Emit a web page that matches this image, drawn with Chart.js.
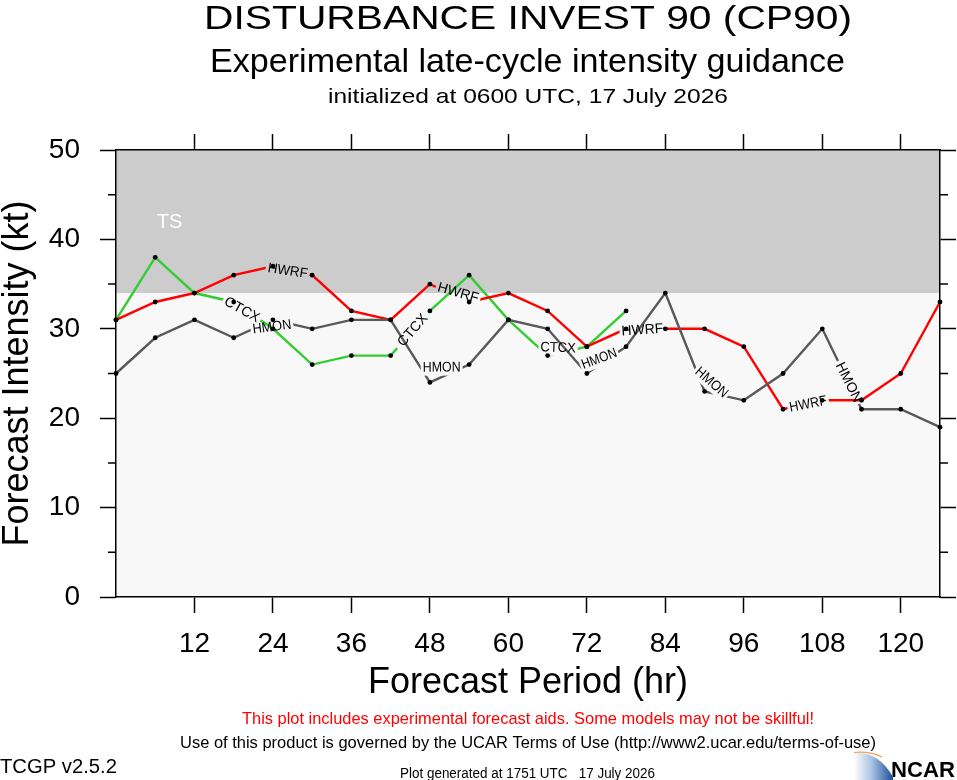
<!DOCTYPE html>
<html lang="en">
<head>
<meta charset="UTF-8">
<title>CP90 late-cycle intensity guidance</title>
<script src="https://cdn.jsdelivr.net/npm/chart.js"></script>
<style>
    html, body { margin: 0; padding: 0; background: #fff; }
    .chart-wrap { position: relative; width: 957px; height: 780px; }
</style>
</head>
<body>
<div class="chart-wrap"><canvas id="intensityChart"></canvas></div>
<script>
    // forecast hours, every 6 h
    const hours = [0, 6, 12, 18, 24, 30, 36, 42, 48, 54, 60, 66, 72, 78, 84, 90, 96, 102, 108, 114, 120, 126];
    // intensity in kt for each model
    const hmon = [25, 29, 31, 29, 31, 30, 31, 31, 24, 26, 31, 30, 25, 28, 34, 23, 22, 25, 30, 21, 21, 19];
    const hwrf = [31, 33, 34, 36, 37, 36, 32, 31, 35, 33, 34, 32, 28, 30, 30, 30, 28, 21, 22, 22, 25, 33];
    const ctcx = [31, 38, 34, 33, 30, 26, 27, 27, 32, 36, 31, 27, 28, 32];

    const xTicks = [12, 24, 36, 48, 60, 72, 84, 96, 108, 120];
    const yTicks = [0, 10, 20, 30, 40, 50];
    const yMinorTicks = [5, 15, 25, 35, 45];
    const tsThreshold = 34; // tropical storm band starts here

    // inline line labels: model and the hour span of the gap in its line
    const labelModel = ['HWRF', 'CTCX', 'HMON', 'CTCX', 'HMON', 'HWRF', 'CTCX', 'HMON', 'HWRF', 'HMON', 'HWRF', 'HMON'];
    const labelFrom  = [22.9, 16.4, 20.6, 43.0, 46.6, 48.9, 64.6, 71.0, 77.0, 88.6, 102.7, 110.4];
    const labelTo    = [29.6, 22.1, 27.1, 47.8, 53.0, 55.7, 70.6, 76.8, 84.0, 93.5, 109.0, 113.6];

    const modelNames = ['HMON', 'HWRF', 'CTCX'];
    const series = { HMON: hmon, HWRF: hwrf, CTCX: ctcx };
    const colors = { HMON: '#595959', HWRF: '#ff0000', CTCX: '#33cc33' };

    const W = 957, H = 780;
    const area = { left: 116, right: 940, top: 150, bottom: 597 };
    const FONT = '"Liberation Sans", Arial, Helvetica, sans-serif';

    Chart.defaults.font.family = FONT;
    Chart.defaults.color = '#000';

    function toXY(vals) {
        return vals.map((v, i) => ({ x: hours[i], y: v }));
    }

    function valueAt(vals, h) {
        for (let i = 0; i < vals.length - 1; i++) {
            if (h >= hours[i] && h <= hours[i + 1]) {
                const f = (h - hours[i]) / (hours[i + 1] - hours[i]);
                return vals[i] + (vals[i + 1] - vals[i]) * f;
            }
        }
        return vals[vals.length - 1];
    }

    // label boxes in pixels, one per label of that model
    function labelBoxes(chart, model) {
        const xs = chart.scales.x, ys = chart.scales.y;
        const out = [];
        labelModel.forEach((m, i) => {
            if (model && m !== model) return;
            const vals = series[m];
            const x1 = xs.getPixelForValue(labelFrom[i]), y1 = ys.getPixelForValue(valueAt(vals, labelFrom[i]));
            const x2 = xs.getPixelForValue(labelTo[i]), y2 = ys.getPixelForValue(valueAt(vals, labelTo[i]));
            out.push({
                text: m,
                cx: (x1 + x2) / 2, cy: (y1 + y2) / 2,
                len: Math.hypot(x2 - x1, y2 - y1),
                ang: Math.atan2(y2 - y1, x2 - x1)
            });
        });
        return out;
    }

    function drawText(ctx, t) {
        ctx.save();
        ctx.font = (t.bold ? 'bold ' : '') + t.size + 'px ' + FONT;
        ctx.fillStyle = t.color || '#000';
        ctx.textBaseline = 'alphabetic';
        ctx.textAlign = t.align || 'center';
        const w = ctx.measureText(t.text).width;
        ctx.translate(t.x, t.y);
        ctx.scale(t.width ? t.width / w : 1, 1);
        ctx.fillText(t.text, 0, 0);
        ctx.restore();
    }

    const pageTexts = [
        { text: 'DISTURBANCE INVEST 90 (CP90)', x: 528, y: 29, size: 34, width: 648 },
        { text: 'Experimental late-cycle intensity guidance', x: 527.5, y: 72, size: 34, width: 635 },
        { text: 'initialized at 0600 UTC, 17 July 2026', x: 528, y: 103, size: 21, width: 400 },
        { text: 'This plot includes experimental forecast aids. Some models may not be skillful!', x: 528, y: 724, size: 17, width: 572, color: '#ff0000' },
        { text: 'Use of this product is governed by the UCAR Terms of Use (http://www2.ucar.edu/terms-of-use)', x: 528, y: 748, size: 17, width: 696 },
        { text: 'TCGP v2.5.2', x: 0, y: 773, size: 20, width: 117, align: 'left' },
        { text: 'Plot generated at 1751 UTC   17 July 2026', x: 400, y: 777.5, size: 14, width: 255, align: 'left' },
        { text: 'NCAR', x: 891, y: 777, size: 22, width: 64, align: 'left', bold: true }
    ];

    // background, TS band and its label
    const backdrop = {
        id: 'backdrop',
        beforeDraw(chart) {
            const { ctx, chartArea: a, scales } = chart;
            ctx.save();
            ctx.fillStyle = '#fff';
            ctx.fillRect(0, 0, chart.width, chart.height);
            ctx.fillStyle = '#f8f8f8';
            ctx.fillRect(a.left, a.top, a.right - a.left, a.bottom - a.top);
            const yTs = scales.y.getPixelForValue(tsThreshold);
            ctx.fillStyle = '#cccccc';
            ctx.fillRect(a.left, a.top, a.right - a.left, yTs - a.top);
            ctx.fillStyle = '#fff';
            ctx.font = '20px ' + FONT;
            ctx.textAlign = 'center';
            ctx.textBaseline = 'middle';
            ctx.fillText('TS', scales.x.getPixelForValue(8.2), scales.y.getPixelForValue(41.9));
            ctx.restore();
        }
    };

    // cut gaps in the lines where the inline labels sit, then write the labels
    const lineLabels = {
        id: 'lineLabels',
        beforeDatasetDraw(chart, args) {
            const ds = chart.data.datasets[args.index];
            if (!ds.lineOf) return;
            const ctx = chart.ctx;
            ctx.save();
            ctx.beginPath();
            ctx.rect(0, 0, chart.width, chart.height);
            labelBoxes(chart, ds.lineOf).forEach(b => {
                const c = Math.cos(b.ang), s = Math.sin(b.ang);
                const hl = b.len / 2, hh = 8;
                const pts = [[-hl, -hh], [hl, -hh], [hl, hh], [-hl, hh]];
                pts.forEach((p, k) => {
                    const px = b.cx + p[0] * c - p[1] * s;
                    const py = b.cy + p[0] * s + p[1] * c;
                    if (k === 0) ctx.moveTo(px, py); else ctx.lineTo(px, py);
                });
                ctx.closePath();
            });
            ctx.clip('evenodd');
        },
        afterDatasetDraw(chart, args) {
            const ds = chart.data.datasets[args.index];
            if (ds.lineOf) chart.ctx.restore();
        },
        afterDatasetsDraw(chart) {
            const ctx = chart.ctx;
            labelBoxes(chart, null).forEach(b => {
                ctx.save();
                ctx.translate(b.cx, b.cy);
                ctx.rotate(b.ang);
                ctx.font = '14px ' + FONT;
                ctx.fillStyle = '#000';
                ctx.textAlign = 'center';
                ctx.textBaseline = 'middle';
                const w = ctx.measureText(b.text).width;
                ctx.scale(Math.min(1, (b.len - 4) / w), 1);
                ctx.fillText(b.text, 0, 0);
                ctx.restore();
            });
        }
    };

    // minor ticks, page texts, logo
    const decorations = {
        id: 'decorations',
        afterDraw(chart) {
            const { ctx, chartArea: a, scales } = chart;
            ctx.save();
            ctx.strokeStyle = '#000';
            ctx.lineWidth = 1.5;
            yMinorTicks.forEach(v => {
                const py = scales.y.getPixelForValue(v);
                ctx.beginPath();
                ctx.moveTo(a.left - 8, py); ctx.lineTo(a.left, py);
                ctx.moveTo(a.right, py); ctx.lineTo(a.right + 8, py);
                ctx.stroke();
            });
            ctx.restore();

            pageTexts.forEach(t => drawText(ctx, t));

            // NCAR swoosh
            ctx.save();
            const g = ctx.createLinearGradient(854, 0, 893, 0);
            g.addColorStop(0, 'rgba(255,255,255,1)');
            g.addColorStop(0.45, '#a9c3e3');
            g.addColorStop(1, '#1d4f9a');
            ctx.beginPath();
            ctx.moveTo(854, 753);
            ctx.quadraticCurveTo(878, 751, 893, 777);
            ctx.lineTo(893, 780);
            ctx.lineTo(854, 780);
            ctx.closePath();
            ctx.fillStyle = g;
            ctx.fill();
            ctx.beginPath();
            ctx.moveTo(854, 752.5);
            ctx.quadraticCurveTo(870, 751, 882, 757);
            ctx.strokeStyle = '#f0a050';
            ctx.lineWidth = 1.2;
            ctx.stroke();
            ctx.restore();
        }
    };

    const datasets = [];
    modelNames.forEach(m => datasets.push({
        label: m + ' points',
        data: toXY(series[m]),
        showLine: false,
        pointRadius: 2.4,
        pointBackgroundColor: '#000',
        pointBorderWidth: 0,
        order: 0,
        clip: false
    }));
    modelNames.forEach((m, i) => datasets.push({
        label: m,
        lineOf: m,
        data: toXY(series[m]),
        borderColor: colors[m],
        borderWidth: 2.4,
        pointRadius: 0,
        fill: false,
        tension: 0,
        order: 1 + i,
        clip: false
    }));

    const axisGrid = { drawOnChartArea: false, drawTicks: true, tickLength: 16, tickWidth: 1.5, tickColor: '#000' };
    const axisBorder = { display: true, color: '#000', width: 1.5 };
    const setXTicks = s => { s.ticks = xTicks.map(v => ({ value: v })); };
    const setYTicks = s => { s.ticks = yTicks.map(v => ({ value: v })); };

    new Chart(document.getElementById('intensityChart'), {
        type: 'line',
        data: { datasets: datasets },
        options: {
            responsive: true,
            maintainAspectRatio: false,
            animation: false,
            layout: { padding: 0 },
            plugins: { legend: { display: false }, tooltip: { enabled: false } },
            scales: {
                x: {
                    type: 'linear', position: 'bottom', min: 0, max: 126,
                    afterBuildTicks: setXTicks,
                    grid: axisGrid, border: axisBorder,
                    ticks: { font: { size: 28 }, padding: 14, maxRotation: 0, autoSkip: false },
                    title: { display: true, text: 'Forecast Period (hr)', font: { size: 36, lineHeight: 1 }, padding: { top: 0, bottom: 79 } },
                    afterFit: s => { s.height = H - area.bottom; }
                },
                x2: {
                    type: 'linear', position: 'top', min: 0, max: 126,
                    afterBuildTicks: setXTicks,
                    grid: axisGrid, border: axisBorder,
                    ticks: { display: false },
                    afterFit: s => { s.height = area.top; }
                },
                y: {
                    type: 'linear', position: 'left', min: 0, max: 50,
                    afterBuildTicks: setYTicks,
                    grid: axisGrid, border: axisBorder,
                    ticks: { font: { size: 28 }, padding: 20 },
                    title: { display: true, text: 'Forecast Intensity (kt)', font: { size: 36, lineHeight: 1 }, padding: { top: 0, bottom: 0 } },
                    afterFit: s => { s.width = area.left; }
                },
                y2: {
                    type: 'linear', position: 'right', min: 0, max: 50,
                    afterBuildTicks: setYTicks,
                    grid: axisGrid, border: axisBorder,
                    ticks: { display: false },
                    afterFit: s => { s.width = W - area.right; }
                }
            }
        },
        plugins: [backdrop, lineLabels, decorations]
    });
</script>
</body>
</html>
